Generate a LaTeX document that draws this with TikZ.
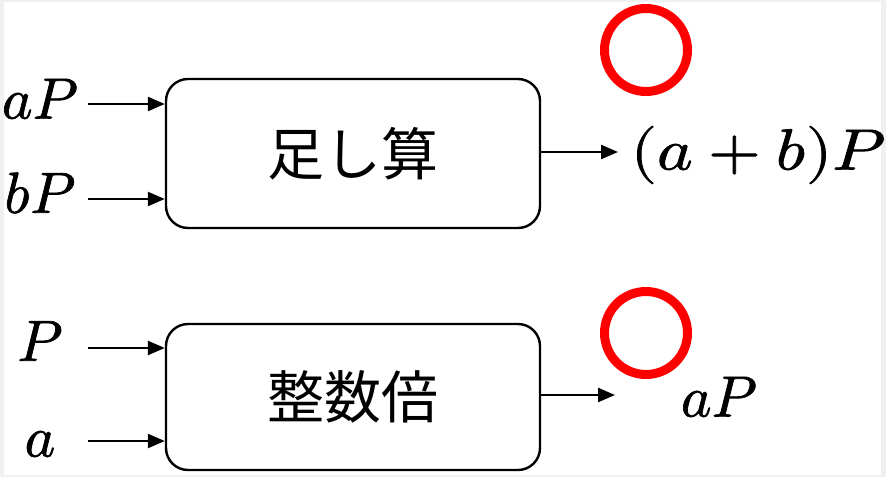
\documentclass[tikz,border=0pt]{standalone}
\usepackage{fontspec}
\usepackage{unicode-math}
\setmathfont{Latin Modern Math}[FakeBold=1.2]
\newfontfamily\cjk{Noto Sans CJK JP}
\usetikzlibrary{arrows.meta}
\begin{document}
\begin{tikzpicture}[x=1pt,y=-1pt,
  blk/.style={draw=black,line width=2.4pt,rounded corners=22pt,minimum width=374pt,inner sep=0pt,
    font=\cjk\fontsize{57}{60}\selectfont},
  lbl/.style={inner sep=0pt,font=\fontsize{58}{60}\selectfont},
  arr/.style={line width=2.4pt,-{Triangle[length=17pt,width=14pt]}},
  okring/.style={circle,draw=red,line width=9pt,minimum size=83pt,inner sep=0pt}]
\fill[black!6] (0,0) rectangle (886,477);
\fill[white] (4,2) rectangle (881,475);
\useasboundingbox (0,0) rectangle (886,477);
% boxes
\node[blk,minimum height=149pt] (add) at (353,153.5) {足し算};
\node[blk,minimum height=146pt] (mul) at (353,397) {整数倍};
% input labels
\node[lbl] (laP) at (40,99) {$aP$};
\node[lbl] (lbP) at (40,193) {$bP$};
\node[lbl] (lP) at (40,341) {$P$};
\node[lbl] (la) at (40,444) {$a$};
% input arrows
\coordinate (s1) at (88,104);
\coordinate (s2) at (88,199);
\coordinate (s3) at (88,348);
\coordinate (s4) at (88,441);
\draw[arr] (s1) -- (s1 -| add.west);
\draw[arr] (s2) -- (s2 -| add.west);
\draw[arr] (s3) -- (s3 -| mul.west);
\draw[arr] (s4) -- (s4 -| mul.west);
% outputs
\coordinate (e1) at (618,152);
\coordinate (e2) at (615,395);
\draw[arr] (e1 -| add.east) -- (e1);
\draw[arr] (e2 -| mul.east) -- (e2);
\node[lbl] (oab) at (758,155) {\scalebox{1.17}[1]{$(a+b)P$}};
\node[lbl] (oaP) at (719,397) {$aP$};
% marks
\node[okring] (c1) at (646,50) {};
\node[okring] (c2) at (646,333) {};
\end{tikzpicture}
\end{document}
